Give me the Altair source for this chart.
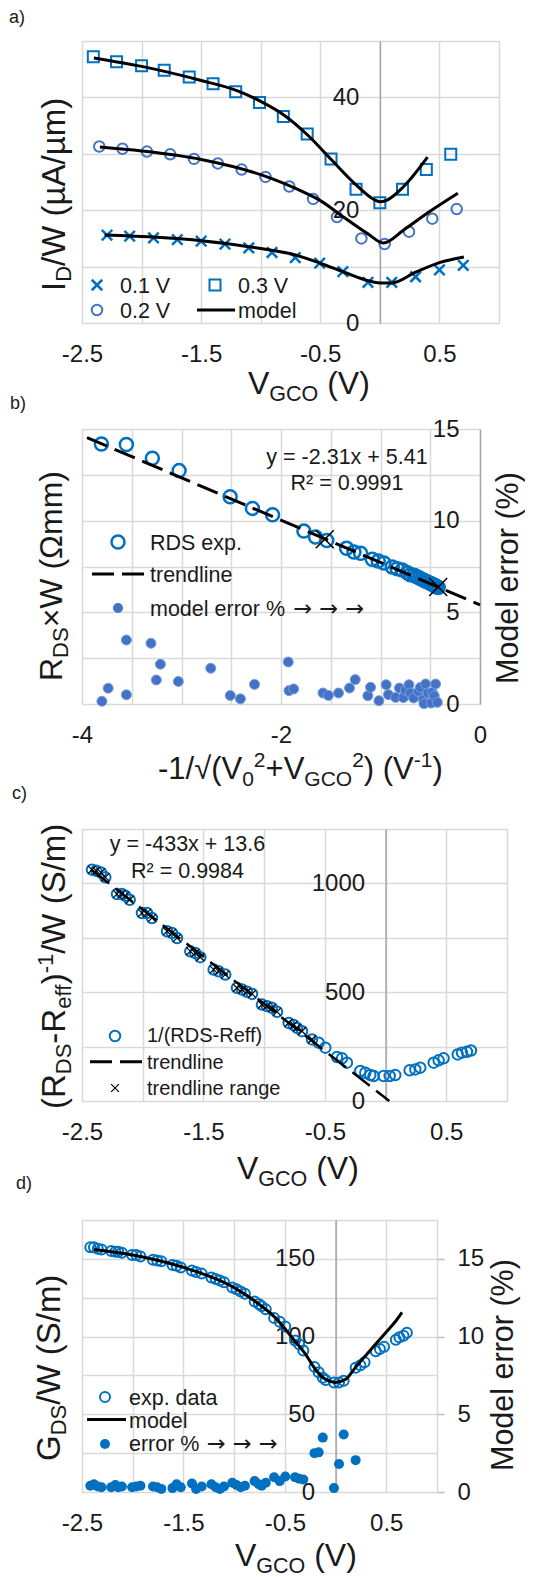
import altair as alt
import pandas as pd

FONT = "Liberation Sans"
AFONT = "DejaVu Sans"
BLUE = "#0070C0"
BLUE2 = "#4472C4"
GRID = "#d9d9d9"
AXIS0 = "#a6a6a6"
TXT = "#1a1a1a"
XPATH = "M-1,-1L1,1M-1,1L1,-1"
TICK_FS = 24

# ---------------- panel a data ----------------
a_03_v = [-2.405, -2.21, -2.0, -1.81, -1.60, -1.40, -1.21, -1.01, -0.81, -0.61, -0.41, -0.20, 0.0, 0.19, 0.39, 0.595]
a_03_y = [47.2, 46.3, 45.6, 44.8, 43.6, 42.4, 41.0, 39.1, 36.6, 33.5, 29.1, 23.7, 21.3, 23.7, 27.2, 29.9]
a_02_v = [-2.355, -2.16, -1.955, -1.76, -1.56, -1.36, -1.16, -0.96, -0.76, -0.56, -0.36, -0.155, 0.04, 0.245, 0.44, 0.645]
a_02_y = [31.3, 30.9, 30.4, 29.9, 29.1, 28.3, 27.2, 25.9, 24.2, 22.0, 18.8, 15.0, 14.0, 16.2, 18.5, 20.2]
a_01_v = [-2.29, -2.1, -1.9, -1.70, -1.5, -1.30, -1.10, -0.905, -0.71, -0.505, -0.31, -0.10, 0.10, 0.30, 0.50, 0.70]
a_01_y = [15.6, 15.4, 15.1, 14.8, 14.5, 14.0, 13.3, 12.5, 11.6, 10.6, 9.1, 7.2, 7.2, 8.2, 9.4, 10.2]
m03_v = [-2.4, -2.0, -1.5, -1.2, -1.0, -0.8, -0.6, -0.4, -0.2, -0.05, 0.0, 0.05, 0.2, 0.4]
m03_y = [47.0, 45.5, 43.0, 41.2, 39.3, 36.8, 33.2, 28.8, 24.5, 21.9, 21.5, 21.7, 24.2, 29.4]
m02_v = [-2.35, -2.0, -1.5, -1.0, -0.8, -0.6, -0.5, -0.3, -0.1, 0.03, 0.2, 0.4, 0.655]
m02_y = [31.2, 30.5, 29.0, 26.3, 24.7, 22.8, 21.7, 18.7, 15.8, 14.2, 16.5, 19.5, 23.0]
m01_v = [-2.31, -1.5, -1.0, -0.7, -0.5, -0.3, -0.1, 0.0, 0.1, 0.3, 0.5, 0.705]
m01_y = [15.6, 14.6, 13.2, 12.0, 10.6, 9.0, 7.5, 7.1, 7.1, 9.0, 10.7, 11.7]

# ---------------- panel b data ----------------
b_r_x = [-3.805, -3.554, -3.293, -3.024, -2.511, -2.287, -2.085, -1.770, -1.653, -1.540, -1.341, -1.267,
         -1.200, -1.083, -1.023, -0.966, -0.882, -0.832, -0.781, -0.731, -0.700, -0.664, -0.640, -0.614,
         -0.590, -0.563, -0.540, -0.513, -0.495, -0.475, -0.463, -0.450, -0.440, -0.429, -0.420]
b_r_y = [14.18, 14.15, 13.40, 12.73, 11.30, 10.67, 10.32, 9.43, 9.11, 8.92, 8.49, 8.29,
         8.22, 7.89, 7.80, 7.69, 7.47, 7.38, 7.31, 7.16, 7.05, 7.02, 6.95, 6.89,
         6.82, 6.75, 6.68, 6.62, 6.57, 6.52, 6.48, 6.45, 6.42, 6.38, 6.35]
b_e_x = [-3.80, -3.737, -3.554, -3.554, -3.307, -3.253, -3.212, -3.032, -2.706, -2.51, -2.408, -2.266,
         -1.927, -1.92, -1.873, -1.578, -1.524, -1.422, -1.311, -1.254, -1.127, -1.10, -1.016, -0.943,
         -0.921, -0.848, -0.81, -0.77, -0.75, -0.714, -0.70, -0.667, -0.62, -0.60, -0.571, -0.563,
         -0.547, -0.524, -0.49, -0.48, -0.46, -0.446, -0.429]
b_e_y = [0.15, 0.86, 0.50, 3.49, 3.31, 1.31, 2.17, 1.23, 1.95, 0.46, 0.28, 1.07,
         2.29, 0.73, 0.82, 0.60, 0.47, 0.60, 0.87, 1.33, 0.45, 0.91, 0.18, 1.05,
         0.51, 0.36, 0.87, 0.35, 0.75, 1.05, 0.60, 0.33, 0.69, 0.90, 0.24, 0.02,
         1.09, 0.60, 0.05, 0.63, 0.45, 1.09, 0.09]
b_t_x = [-3.95, 0.0]
b_t_y = [14.53, 5.41]
b_k_x = [-1.56, -0.42]
b_k_y = [8.99, 6.38]

# ---------------- panel c data ----------------
c_v = [-2.418, -2.382, -2.344, -2.308, -2.212, -2.171, -2.143, -2.107, -2.006, -1.965, -1.924,
       -1.800, -1.759, -1.718, -1.608, -1.567, -1.526, -1.416, -1.375, -1.320, -1.224, -1.182,
       -1.141, -1.100, -1.018, -0.977, -0.936, -0.894, -0.798, -0.757, -0.729, -0.688, -0.606,
       -0.551, -0.496, -0.400, -0.359, -0.318, -0.208, -0.167, -0.126, -0.098, -0.016, 0.034,
       0.080, 0.198, 0.245, 0.286, 0.396, 0.437, 0.478, 0.594, 0.629, 0.670, 0.703]
c_y = [1063, 1058, 1050, 1028, 951, 951, 943, 925, 864, 864, 841,
       780, 772, 749, 688, 680, 661, 604, 596, 581, 520, 512,
       502, 492, 443, 436, 428, 410, 359, 349, 336, 321, 283,
       268, 245, 202, 196, 176, 138, 130, 119, 115, 115, 115,
       119, 141, 145, 153, 176, 187, 196, 214, 222, 226, 232]
c_t_x = [-2.42, 0.031]
c_t_y = [1061.5, 0.2]
c_range_max = -0.6

# ---------------- panel d data ----------------
d_y = [157.5, 157.5, 156.5, 156, 155, 154.5, 154.5, 154, 152.5, 152.5, 151.5,
       149.5, 149, 148.5, 146, 145.5, 144.5, 142.5, 141.5, 140.5, 138, 137,
       136, 135, 131.5, 130.5, 129, 127.5, 122.5, 121, 119.5, 117.5, 112,
       109.5, 106.5, 97.5, 95, 91, 80.5, 77, 73.5, 72, 70.5, 70.5,
       71.5, 80, 81.5, 83.5, 90.5, 92, 93.5, 98, 99.5, 100.5, 102.5]
d_m_v = [-2.38, -2.0, -1.5, -1.0, -0.8, -0.6, -0.4, -0.3, -0.2, -0.1, 0.0, 0.1, 0.2, 0.3, 0.4, 0.5, 0.6, 0.655]
d_m_y = [156, 152.5, 144.5, 131.5, 123, 112.5, 97, 89, 79, 72.5, 70.5, 72.5, 80.5, 88, 95.5, 103, 110.5, 115.5]
d_e_v = [-2.418, -2.382, -2.344, -2.308, -2.212, -2.171, -2.143, -2.107, -2.006, -1.965, -1.924,
         -1.800, -1.759, -1.718, -1.608, -1.567, -1.526, -1.416, -1.375, -1.320, -1.224, -1.182,
         -1.141, -1.100, -1.018, -0.977, -0.936, -0.894, -0.798, -0.757, -0.729, -0.688, -0.606,
         -0.551, -0.496, -0.400, -0.359, -0.318, -0.208, -0.167, -0.126, -0.016, 0.034, 0.080, 0.198]
d_e_y = [0.4, 0.5, 0.35, 0.3, 0.3, 0.45, 0.3, 0.35, 0.3, 0.35, 0.4,
         0.35, 0.3, 0.2, 0.25, 0.5, 0.3, 0.55, 0.2, 0.35, 0.5, 0.3,
         0.2, 0.35, 0.6, 0.45, 0.3, 0.4, 0.7, 0.5, 0.4, 0.6, 0.95,
         0.7, 1.0, 0.95, 0.85, 0.8, 2.5, 2.55, 3.5, 0.25, 1.8, 3.7, 2.05]

# ---------------- ticks ----------------
ticks_v = [-2.5, -2.0, -1.5, -1.0, -0.5, 0.0, 0.5, 1.0]
ticks_a_y = [0, 10, 20, 30, 40, 50]
ticks_b_x = [-4.0, -3.5, -3.0, -2.5, -2.0, -1.5, -1.0, -0.5, 0.0]
ticks_b_y = [0, 2.5, 5, 7.5, 10, 12.5, 15]
ticks_c_y = [0, 250, 500, 750, 1000, 1250]
ticks_d_y = [0, 25, 50, 75, 100, 125, 150, 175]
ticks_d_e = [0, 5, 10, 15]

# ---------------- layout (page pixels) ----------------
GEO = {
    'a': dict(left=82, top=40, w=417, h=282, T=8, B=415),
    'b': dict(left=80, top=428, w=398, h=275, T=415, B=810),
    'c': dict(left=75, top=828, w=425, h=272, T=810, B=1195),
    'd': dict(left=77, top=1219, w=355, h=272, T=1195, B=None),
}

CW = {' ': 278, '(': 333, ')': 333, '+': 584, '-': 333, '.': 278, '/': 278, '=': 584,
      'A': 667, 'C': 722, 'D': 722, 'G': 778, 'O': 778, 'R': 722, 'S': 667, 'V': 667, 'W': 944,
      'I': 278, 'M': 833, 'a': 556, 'd': 556, 'e': 556, 'f': 278, 'm': 833, 'µ': 576, 'Ω': 768,
      '×': 584, '√': 549, '²': 333, '%': 889, 'x': 500, 'y': 500, 'o': 556, 'l': 222, 'r': 333,
      's': 500, 't': 278, 'n': 556, 'i': 222, 'g': 556, 'p': 556}


def tw(s, size):
    return sum(CW.get(ch, 556) for ch in s) / 1000.0 * size


ONE = pd.DataFrame({'k': [0]})


def txt(g, x, y, s, size, angle=0, align='left', baseline='alphabetic', color=TXT, font=FONT):
    kw = dict(text=s, fontSize=size, font=font, align=align, baseline=baseline, color=color)
    if angle:
        kw['angle'] = angle
    return alt.Chart(ONE).mark_text(**kw).encode(x=alt.value(x - g['left']), y=alt.value(y - g['top']))


def rich(g, x, y, pieces, angle=0):
    out = []
    adv = 0.0
    for s, size, shift in pieces:
        lead = len(s) - len(s.lstrip(' '))
        adv += tw(' ' * lead, size)
        s2 = s.lstrip(' ')
        if angle == 0:
            out.append(txt(g, x + adv, y + shift, s2, size))
        else:
            out.append(txt(g, x + shift, y - adv, s2, size, angle=270))
        adv += tw(s2, size)
    return out


def sym(g, x, y, shape, size, filled, color, sw=2.0):
    return alt.Chart(ONE).mark_point(shape=shape, size=size, filled=filled, color=color,
                                     strokeWidth=sw, opacity=1).encode(
        x=alt.value(x - g['left']), y=alt.value(y - g['top']))


def hline(g, x1, x2, y, dash=None, sw=3.0):
    kw = dict(color='black', strokeWidth=sw)
    if dash:
        kw['strokeDash'] = dash
    return alt.Chart(ONE).mark_rule(**kw).encode(
        x=alt.value(x1 - g['left']), x2=alt.value(x2 - g['left']), y=alt.value(y - g['top']))


def anchors(g):
    lst = [alt.Chart(ONE).mark_text(text='.', fontSize=1, color='white', align='left', baseline='top').encode(
        x=alt.value(9 - g['left']), y=alt.value(g['T'] - g['top'] + 1))]
    if g['B']:
        lst.append(alt.Chart(ONE).mark_text(text='.', fontSize=1, color='white', align='left', baseline='bottom').encode(
            x=alt.value(9 - g['left']), y=alt.value(g['B'] - g['top'] - 1)))
    return lst


def xaxis(values, expr):
    return alt.Axis(values=values, labelExpr=expr, grid=True, gridColor=GRID, gridWidth=1.5,
                    domain=False, ticks=False, tickSize=0, labelPadding=19, labelFontSize=TICK_FS,
                    labelFont=FONT, labelColor=TXT, labelFlush=False, labelOverlap=False, title=None)


def yaxis(values, expr, offset):
    return alt.Axis(values=values, labelExpr=expr, grid=True, gridColor=GRID, gridWidth=1.5,
                    domain=True, domainColor=AXIS0, domainWidth=1.5, ticks=False, tickSize=0,
                    labelPadding=21, labelFontSize=TICK_FS, labelFont=FONT, labelColor=TXT,
                    labelFlush=False, labelOverlap=False, offset=offset, orient='left', title=None)


EXPR_HALF = "abs(datum.value % 1) == 0.5 ? toString(datum.value) : ''"


def xv_title(g, x, y):
    return rich(g, x, y, [("V", 32, 0), ("GCO", 21.5, 7), (" (V)", 32, 0)])


# ================= panel a =================
g = GEO['a']
XA = alt.X('x:Q', scale=alt.Scale(domain=[-2.5, 1.0], nice=False, zero=False), axis=xaxis(ticks_v, EXPR_HALF))
YA = alt.Y('y:Q', scale=alt.Scale(domain=[0, 50], nice=False, zero=False),
           axis=yaxis(ticks_a_y, "datum.value % 20 == 0 ? toString(datum.value) : ''", -g['w'] * 2.5 / 3.5))
a_sq = alt.Chart(pd.DataFrame({'x': a_03_v, 'y': a_03_y})).mark_point(
    shape='square', size=121, filled=False, color=BLUE, strokeWidth=2, opacity=1).encode(XA, YA)
a_ci = alt.Chart(pd.DataFrame({'x': a_02_v, 'y': a_02_y})).mark_point(
    shape='circle', size=110, filled=False, color=BLUE2, strokeWidth=2, opacity=1).encode(XA, YA)
a_cr = alt.Chart(pd.DataFrame({'x': a_01_v, 'y': a_01_y})).mark_point(
    shape=XPATH, size=110, filled=False, color=BLUE, strokeWidth=2.5, opacity=1).encode(XA, YA)
a_model = pd.concat([
    pd.DataFrame({'x': m03_v, 'y': m03_y, 's': '0.3'}),
    pd.DataFrame({'x': m02_v, 'y': m02_y, 's': '0.2'}),
    pd.DataFrame({'x': m01_v, 'y': m01_y, 's': '0.1'}),
])
a_ln = alt.Chart(a_model).mark_line(color='black', strokeWidth=3, interpolate='monotone').encode(
    XA, YA, detail='s:N')
a_layers = [a_sq, a_ci, a_cr, a_ln]
a_layers += [
    sym(g, 97, 284, XPATH, 110, False, BLUE, 2.5), txt(g, 120, 291.7, "0.1 V", 21.5),
    sym(g, 215, 284, 'square', 121, False, BLUE, 2), txt(g, 238, 291.7, "0.3 V", 21.5),
    sym(g, 97, 309, 'circle', 110, False, BLUE2, 2), txt(g, 120, 316.7, "0.2 V", 21.5),
    hline(g, 197, 235, 309), txt(g, 238, 316.7, "model", 21.5),
]
a_layers += xv_title(g, 248, 393)
a_layers += rich(g, 65, 290, [("I", 33, 0), ("D", 22, 6), ("/W (µA/µm)", 33, 0)], angle=270)
a_layers += [txt(g, 9, 22, "a)", 18), txt(g, 10, 408, "b)", 18)]
a_layers += anchors(g)
pa = alt.layer(*a_layers).properties(width=g['w'], height=g['h'])

# ================= panel b =================
g = GEO['b']
XB = alt.X('x:Q', scale=alt.Scale(domain=[-4, 0], nice=False, zero=False),
           axis=xaxis(ticks_b_x, "datum.value % 2 == 0 ? toString(datum.value) : ''"))
YB = alt.Y('y:Q', scale=alt.Scale(domain=[0, 15], nice=False, zero=False),
           axis=yaxis(ticks_b_y, "datum.value % 5 == 0 ? toString(datum.value) : ''", -g['w']))
b_err = alt.Chart(pd.DataFrame({'x': b_e_x, 'y': b_e_y})).mark_point(
    shape='circle', size=100, filled=True, fill=BLUE2, stroke="#7a9de0", strokeWidth=1, opacity=1).encode(XB, YB)
b_rds = alt.Chart(pd.DataFrame({'x': b_r_x, 'y': b_r_y})).mark_point(
    shape='circle', size=169, filled=False, color=BLUE, strokeWidth=2.5, opacity=1).encode(XB, YB)
b_tr = alt.Chart(pd.DataFrame({'x': b_t_x, 'y': b_t_y})).mark_line(
    color='black', strokeWidth=3, strokeDash=[22, 8]).encode(XB, YB)
b_kx = alt.Chart(pd.DataFrame({'x': b_k_x, 'y': b_k_y})).mark_point(
    shape=XPATH, size=324, filled=False, color='black', strokeWidth=1.5, opacity=1).encode(XB, YB)
b_layers = [b_err, b_rds, b_tr, b_kx]
b_layers += [
    txt(g, 345, 463, "y = -2.31x + 5.41", 21.5, align='center'),
    txt(g, 345, 489, "R² = 0.9991", 21.5, align='center'),
    sym(g, 116, 541, 'circle', 169, False, BLUE, 2.5), txt(g, 148, 548.7, "RDS exp.", 21.5),
    hline(g, 90, 142, 573, dash=[22, 8]), txt(g, 148, 581.4, "trendline", 21.5),
    sym(g, 116, 607, 'circle', 100, True, BLUE2), txt(g, 148, 614.7, "model error %", 21.5),
    txt(g, 291, 614.7, "→ → →", 22.5, font=AFONT),
]
b_layers += rich(g, 156, 778, [("-1/√(V", 31, 0), ("0", 21, 7), ("2", 21, -12), ("+V", 31, 0),
                               ("GCO", 21, 7), ("2", 21, -12), (") (V", 31, 0), ("-1", 21, -12), (")", 31, 0)])
b_layers += rich(g, 60, 680, [("R", 32, 0), ("DS", 22, 6), ("×W (Ωmm)", 32, 0)], angle=270)
b_layers += [txt(g, 516, 683, "Model error (%)", 30.5, angle=270)]
b_layers += [txt(g, 10, 798, "c)", 18)]
b_layers += anchors(g)
pb = alt.layer(*b_layers).properties(width=g['w'], height=g['h'])

# ================= panel c =================
g = GEO['c']
XC = alt.X('x:Q', scale=alt.Scale(domain=[-2.5, 1.0], nice=False, zero=False), axis=xaxis(ticks_v, EXPR_HALF))
YC = alt.Y('y:Q', scale=alt.Scale(domain=[0, 1250], nice=False, zero=False),
           axis=yaxis(ticks_c_y, "datum.value % 500 == 0 ? toString(datum.value) : ''", -g['w'] * 2.5 / 3.5))
c_df = pd.DataFrame({'x': c_v, 'y': c_y})
c_ci = alt.Chart(c_df).mark_point(shape='circle', size=110, filled=False, color=BLUE, strokeWidth=2,
                                  opacity=1).encode(XC, YC)
c_tr = alt.Chart(pd.DataFrame({'x': c_t_x, 'y': c_t_y})).mark_line(
    color='black', strokeWidth=2.5, strokeDash=[22, 8]).encode(XC, YC)
c_cr = alt.Chart(c_df[c_df['x'] <= c_range_max]).mark_point(
    shape=XPATH, size=60, filled=False, color='black', strokeWidth=1.2, opacity=1).encode(XC, YC)
c_layers = [c_ci, c_tr, c_cr]
c_layers += [
    txt(g, 180.5, 850, "y = -433x + 13.6", 21.5, align='center'),
    txt(g, 180.5, 877, "R² = 0.9984", 21.5, align='center'),
    sym(g, 108, 1035, 'circle', 110, False, BLUE, 2), txt(g, 140, 1041, "1/(RDS-Reff)", 20),
    hline(g, 83, 135, 1060.7, dash=[22, 8]), txt(g, 140, 1067.6, "trendline", 20),
    sym(g, 108, 1087, XPATH, 60, False, 'black', 1.2), txt(g, 140, 1093.6, "trendline range", 20),
]
c_layers += xv_title(g, 230, 1178)
c_layers += rich(g, 58, 1108, [("(R", 33, 0), ("DS", 22, 6), ("-R", 33, 0), ("eff", 22, 6), (")", 33, 0),
                               ("-1", 22, -12), ("/W (S/m)", 33, 0)], angle=270)
c_layers += [txt(g, 9, 1188, "d)", 18)]
c_layers += anchors(g)
pc = alt.layer(*c_layers).properties(width=g['w'], height=g['h'])

# ================= panel d =================
g = GEO['d']
XD = alt.X('x:Q', scale=alt.Scale(domain=[-2.5, 1.0], nice=False, zero=False), axis=xaxis(ticks_v, EXPR_HALF))
YD = alt.Y('y:Q', scale=alt.Scale(domain=[0, 175], nice=False, zero=False),
           axis=yaxis(ticks_d_y, "datum.value % 50 == 0 ? toString(datum.value) : ''", -g['w'] * 2.5 / 3.5))
YE = alt.Y('y:Q', scale=alt.Scale(domain=[0, 17.5], nice=False, zero=False),
           axis=alt.Axis(values=ticks_d_e, orient='right', grid=False, domain=False, ticks=True, tickSize=7,
                         tickColor="#bfbfbf", tickWidth=1.5, labelPadding=13, labelFontSize=TICK_FS, labelFont=FONT,
                         labelColor=TXT, labelFlush=False, labelOverlap=False, title=None))
d_ci = alt.Chart(pd.DataFrame({'x': c_v, 'y': d_y})).mark_point(
    shape='circle', size=100, filled=False, color=BLUE, strokeWidth=2, opacity=1).encode(XD, YD)
d_ln = alt.Chart(pd.DataFrame({'x': d_m_v, 'y': d_m_y})).mark_line(
    color='black', strokeWidth=3, interpolate='monotone').encode(XD, YD)
d_err = alt.Chart(pd.DataFrame({'x': d_e_v, 'y': d_e_y})).mark_point(
    shape='circle', size=100, filled=True, color=BLUE, opacity=1).encode(XD, YE)
d_layers = [d_ci, d_ln]
d_layers += [
    sym(g, 100, 1396, 'circle', 100, False, BLUE, 2), txt(g, 124, 1403.7, "exp. data", 21.5),
    hline(g, 82, 121, 1418.5), txt(g, 124, 1427, "model", 21.5),
    sym(g, 100, 1443, 'circle', 100, True, BLUE), txt(g, 124, 1450, "error %", 21.5),
    txt(g, 201.5, 1450, "→ → →", 22.5, font=AFONT),
]
d_layers += xv_title(g, 230, 1565)
d_layers += rich(g, 55, 1460, [("G", 33, 0), ("DS", 22, 6), ("/W (S/m)", 33, 0)], angle=270)
d_layers += [txt(g, 508, 1470, "Model error (%)", 30.5, angle=270)]
d_layers += anchors(g)
d_main = alt.layer(*d_layers)
pdd = alt.layer(d_err, d_main).resolve_scale(y='independent').properties(width=g['w'], height=g['h'])

chart = alt.vconcat(pa, pb, pc, pdd, spacing=0).properties(padding=0).configure_view(
    strokeWidth=0).configure(background='white')
chart.save("out.html", embed_options={"renderer": "svg", "actions": False})
